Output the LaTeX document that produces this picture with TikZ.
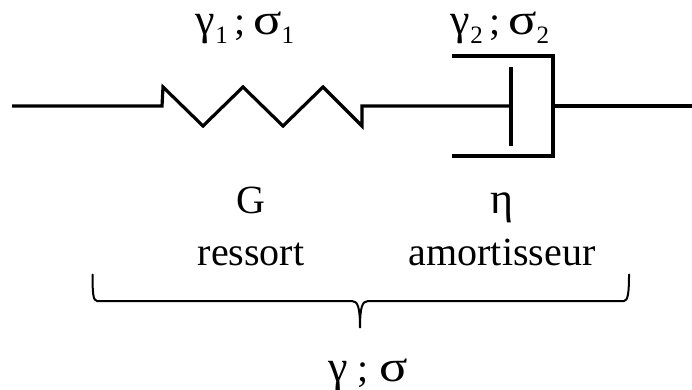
\documentclass[tikz,border=0pt]{standalone}
\usepackage{fontspec}
\setmainfont{Liberation Serif}
\usepackage{amsmath}
\usetikzlibrary{calc}
\newcommand{\ind}[1]{\raisebox{-9.5pt}{\fontsize{25}{25}\selectfont #1}}
\newcommand{\grk}[1]{{\fontsize{44}{47}\selectfont #1}}
\newcommand{\sgm}{\scalebox{1.2}[1]{\fontsize{44}{47}\selectfont σ}}
\tikzset{lbl/.style={inner sep=0pt,anchor=base,font=\fontsize{40}{47}\selectfont},
  part/.style={line width=3.2pt,line join=miter},
  brace/.style={line width=2pt,line cap=round}}

\begin{document}
\begin{tikzpicture}[inner sep=0pt]
\def\u{1pt}
\useasboundingbox (0,0) rectangle (692*\u, -390*\u);

\coordinate (in) at (12*\u, -106*\u);
\coordinate (s0) at (162*\u, -106*\u);
\coordinate (s1) at (163*\u, -87*\u);
\coordinate (s2) at (203*\u, -126*\u);
\coordinate (s3) at (243*\u, -87*\u);
\coordinate (s4) at (283*\u, -126*\u);
\coordinate (s5) at (323*\u, -87*\u);
\coordinate (s6) at (362*\u, -126*\u);
\coordinate (s7) at (362*\u, -106*\u);
\coordinate (p0) at (511*\u, -106*\u);
\coordinate (p1) at (511*\u, -67*\u);
\coordinate (p2) at (511*\u, -146*\u);
\coordinate (c1) at (452*\u, -56*\u);
\coordinate (c2) at (553*\u, -56*\u);
\coordinate (c3) at (553*\u, -156*\u);
\coordinate (c4) at (452*\u, -156*\u);
\coordinate (c0) at (553*\u, -106*\u);
\coordinate (out) at (692*\u, -106*\u);

\draw[part] (in) -- (s0) -- (s1) -- (s2) -- (s3) -- (s4) -- (s5) -- (s6) -- (s7) -- (p0);
\draw[part] (p1) -- (p2);
\draw[part] (c1) -- (c2) -- (c3) -- (c4);
\draw[part] (c0) -- (out);

\coordinate (b1) at (92.5*\u, -274.5*\u);
\coordinate (b2) at (97*\u, -301*\u);
\coordinate (b3) at (352*\u, -301*\u);
\coordinate (b4) at (360*\u, -328*\u);
\coordinate (b5) at (368*\u, -301*\u);
\coordinate (b6) at (624*\u, -301*\u);
\coordinate (b7) at (629*\u, -274.5*\u);

\draw[brace] (b1) .. controls (92.5*\u, -292*\u) and (93*\u, -301*\u) .. (b2) -- (b3)
  .. controls (358*\u, -301*\u) and (360*\u, -308*\u) .. (b4)
  .. controls (360*\u, -308*\u) and (362*\u, -301*\u) .. (b5) -- (b6)
  .. controls (628*\u, -301*\u) and (629*\u, -292*\u) .. (b7);

\node[lbl] (t1) at (245*\u, -34.5*\u) {\grk{γ}\ind{1}\kern7pt;\kern7pt\sgm\ind{1}};
\node[lbl] (t2) at (500*\u, -34.5*\u) {\grk{γ}\ind{2}\kern7pt;\kern7pt\sgm\ind{2}};
\node[lbl] (g) at (251*\u, -213*\u) {G};
\node[lbl] (r) at (251*\u, -265*\u) {ressort};
\node[lbl] (e) at (502*\u, -213*\u) {\grk{η}};
\node[lbl] (a) at (502*\u, -265*\u) {amortisseur};
\node[lbl] (t) at (368*\u, -381*\u) {\grk{γ}\ ;\ \sgm};
\end{tikzpicture}
\end{document}
